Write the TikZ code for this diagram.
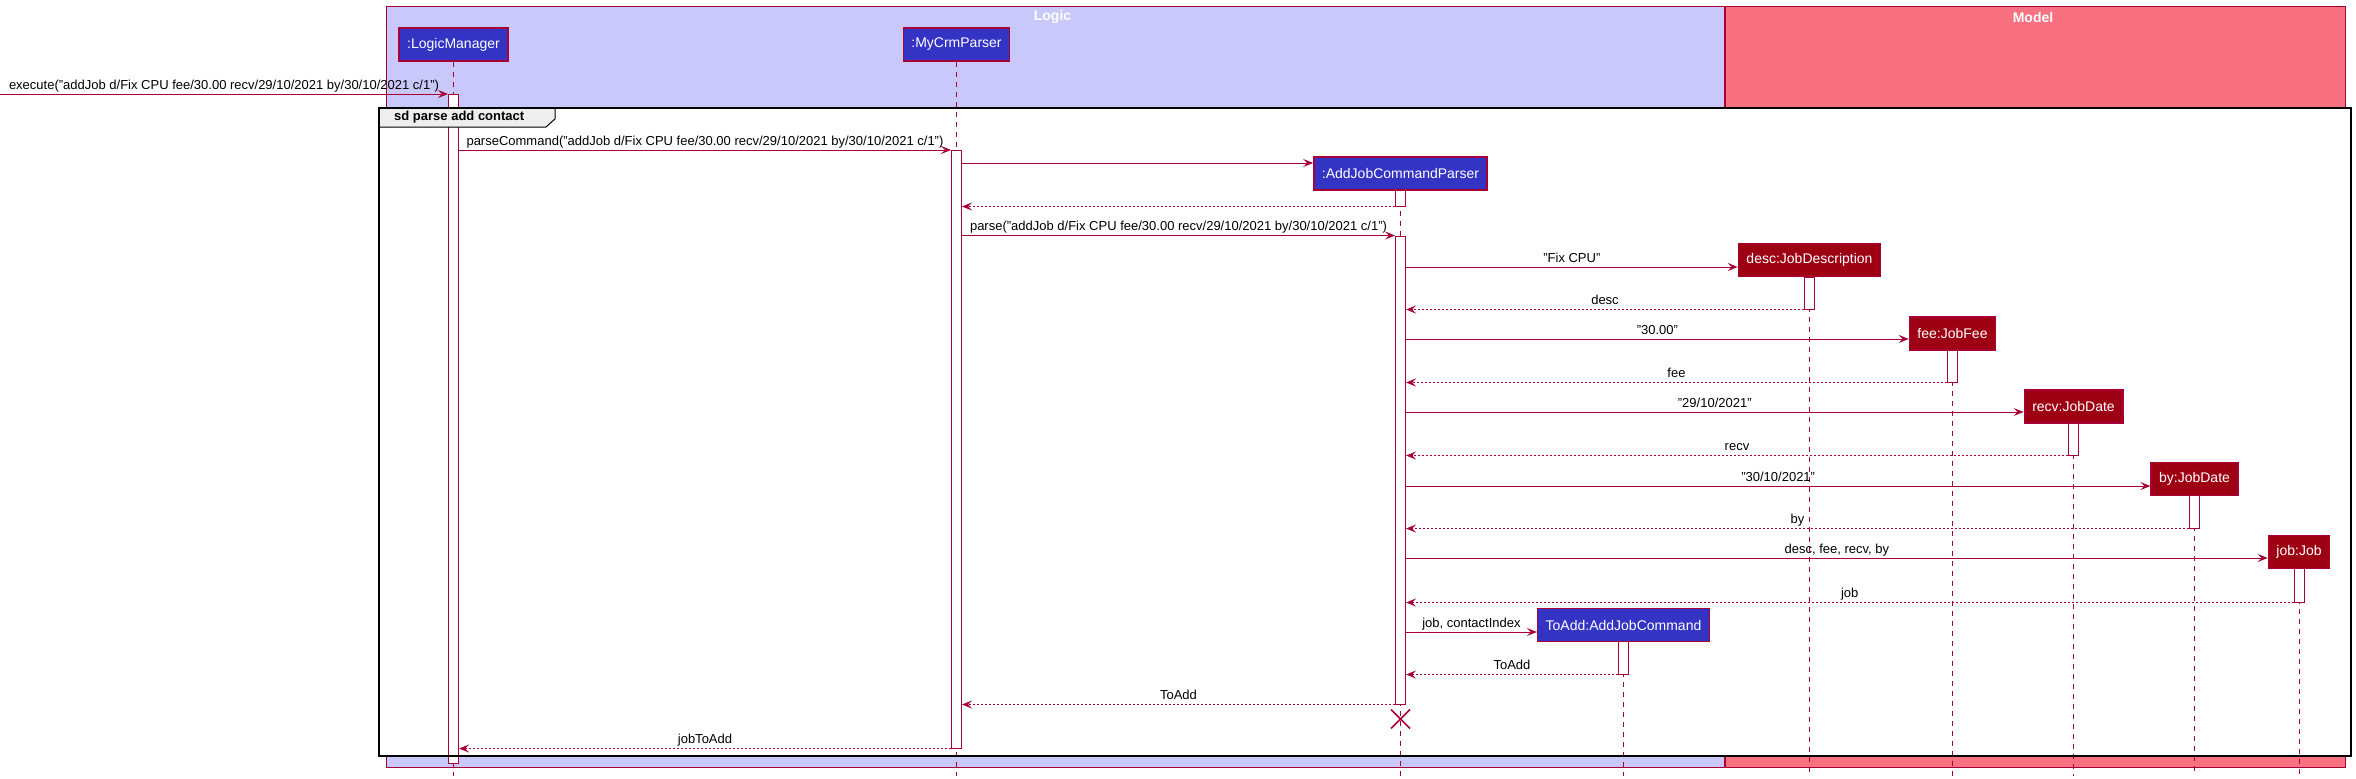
\documentclass[tikz,border=0pt]{standalone}
\usepackage{fontspec}
\setmainfont{Liberation Sans}
\usetikzlibrary{arrows.meta,fit}
\definecolor{umlred}{HTML}{A80036}
\definecolor{logicbg}{HTML}{C8C8FA}
\definecolor{modelbg}{HTML}{F97181}
\definecolor{logicfill}{HTML}{3333C4}
\definecolor{modelfill}{HTML}{9D0012}
\definecolor{tagbg}{HTML}{EEEEEE}
\def\actbar(#1)(#2:#3:#4){\node[bar, fit={(#2-5,#3) (#2+5,#4)}] (#1) {};}
\tikzset{
  part/.style={draw=umlred, line width=1.5pt, text=white, minimum height=33pt, inner xsep=8pt, font=\fontsize{14}{16}\selectfont},
  logicpart/.style={part, fill=logicfill},
  modelpart/.style={part, fill=modelfill},
  pkgtitle/.style={text=white, font=\bfseries\fontsize{14}{16}\selectfont},
  life/.style={draw=umlred, line width=1pt, dash pattern=on 5pt off 5pt},
  bar/.style={draw=umlred, fill=white, line width=1pt, inner sep=0pt},
  call/.style={draw=umlred, line width=1pt, -{Stealth[length=10pt, width=8pt, inset=4pt, fill=umlred]}},
  ret/.style={call, dash pattern=on 2pt off 2pt},
  lbl/.style={midway, anchor=base, yshift=5pt, inner sep=0pt, font=\fontsize{13}{15}\selectfont}
}

\begin{document}
\begin{tikzpicture}[x=1pt, y=-1pt]
		%%%%% START %%%%%
		\useasboundingbox (0,0) rectangle (2356,779);
		
		% packages
		\draw[umlred, fill=logicbg] (386,6) rectangle (1724,767);
		\draw[umlred, fill=modelbg] (1725.5,6) rectangle (2345.5,767);
		\node[pkgtitle] (logicTitle) at (1052.5,17) {Logic};
		\node[pkgtitle] (modelTitle) at (2033,17) {Model};
		
		% sd frame background
		\fill[white] (379,108) rectangle (2351,756);
		
		% participants
		\node[logicpart] (lm) at (453.5,44.5) {:LogicManager};
		\node[logicpart] (mcp) at (956.5,44.5) {:MyCrmParser};
		\node[logicpart] (ajcp) at (1400.5,173.5) {:AddJobCommandParser};
		\node[modelpart] (desc) at (1809.5,260) {desc:JobDescription};
		\node[modelpart] (fee) at (1952.5,333.5) {fee:JobFee};
		\node[modelpart] (recvDate) at (2073.5,406.5) {recv:JobDate};
		\node[modelpart] (byDate) at (2194.5,479) {by:JobDate};
		\node[modelpart] (job) at (2299,552) {job:Job};
		\node[logicpart] (toAdd) at (1623.5,625) {ToAdd:AddJobCommand};
		
		\foreach \p in {lm, mcp, ajcp, desc, fee, recvDate, byDate, job, toAdd}
			\draw[life] (\p.south) -- (\p.south |- 0,776);
		
		% activations
		\actbar(lmBar)(453.5:94:763)
		\actbar(mcpBar)(956.5:150:748)
		\actbar(ajcpBarA)(1400.5:190:206)
		\actbar(ajcpBarB)(1400.5:236:704)
		\actbar(descBar)(1809.5:277:309)
		\actbar(feeBar)(1952.5:350:382)
		\actbar(recvBar)(2073.5:423:455)
		\actbar(byBar)(2194.5:495:528)
		\actbar(jobBar)(2299:568:602)
		\actbar(toAddBar)(1623.5:641:674)
		
		% sd frame and tag
		\draw[black, fill=tagbg, line width=1pt] (379,108) -- (555,108) -- (555,119) -- (546,127) -- (379,127);
		\draw[black, line width=2.5pt] (379,108) rectangle (2351,756);
		\node[anchor=west, inner sep=0pt, font=\bfseries\fontsize{13}{15}\selectfont] (sdTag) at (394,117.5) {sd parse add contact};
		
		% messages
		\coordinate (caller) at (0,94);
		\draw[call] (caller) -- node[lbl] {execute("addJob d/Fix CPU fee/30.00 recv/29/10/2021 by/30/10/2021 c/1")} (lmBar.west |- caller);
		\draw[call] (lmBar.east |- 0,150) -- node[lbl] {parseCommand("addJob d/Fix CPU fee/30.00 recv/29/10/2021 by/30/10/2021 c/1")} (mcpBar.west |- 0,150);
		\draw[call] (mcpBar.east |- 0,163) -- (ajcp.west |- 0,163);
		\draw[ret] (ajcpBarA.south west) -- (mcpBar.east |- ajcpBarA.south);
		\draw[call] (mcpBar.east |- ajcpBarB.north) -- node[lbl] {parse("addJob d/Fix CPU fee/30.00 recv/29/10/2021 by/30/10/2021 c/1")} (ajcpBarB.north west);
		
		\draw[call] (ajcpBarB.east |- 0,267) -- node[lbl] {"Fix CPU"} (desc.west |- 0,267);
		\draw[ret] (descBar.south west) -- node[lbl] {desc} (ajcpBarB.east |- descBar.south);
		\draw[call] (ajcpBarB.east |- 0,339) -- node[lbl] {"30.00"} (fee.west |- 0,339);
		\draw[ret] (feeBar.south west) -- node[lbl] {fee} (ajcpBarB.east |- feeBar.south);
		\draw[call] (ajcpBarB.east |- 0,412) -- node[lbl] {"29/10/2021"} (recvDate.west |- 0,412);
		\draw[ret] (recvBar.south west) -- node[lbl] {recv} (ajcpBarB.east |- recvBar.south);
		\draw[call] (ajcpBarB.east |- 0,486) -- node[lbl] {"30/10/2021"} (byDate.west |- 0,486);
		\draw[ret] (byBar.south west) -- node[lbl] {by} (ajcpBarB.east |- byBar.south);
		\draw[call] (ajcpBarB.east |- 0,558) -- node[lbl] {desc, fee, recv, by} (job.west |- 0,558);
		\draw[ret] (jobBar.south west) -- node[lbl] {job} (ajcpBarB.east |- jobBar.south);
		\draw[call] (ajcpBarB.east |- 0,632) -- node[lbl] {job, contactIndex} (toAdd.west |- 0,632);
		\draw[ret] (toAddBar.south west) -- node[lbl] {ToAdd} (ajcpBarB.east |- toAddBar.south);
		\draw[ret] (ajcpBarB.south west) -- node[lbl] {ToAdd} (mcpBar.east |- ajcpBarB.south);
		
		\coordinate (ajcpEnd) at (1400.5,719);
		\draw[umlred, line width=1.5pt] (ajcpEnd) ++(-9.5,-9.5) -- ++(19,19) (ajcpEnd) ++(9.5,-9.5) -- ++(-19,19);
		
		\draw[ret] (mcpBar.south west) -- node[lbl] {jobToAdd} (lmBar.east |- mcpBar.south);
		
		%%%%% END %%%%%
\end{tikzpicture}
\end{document}
